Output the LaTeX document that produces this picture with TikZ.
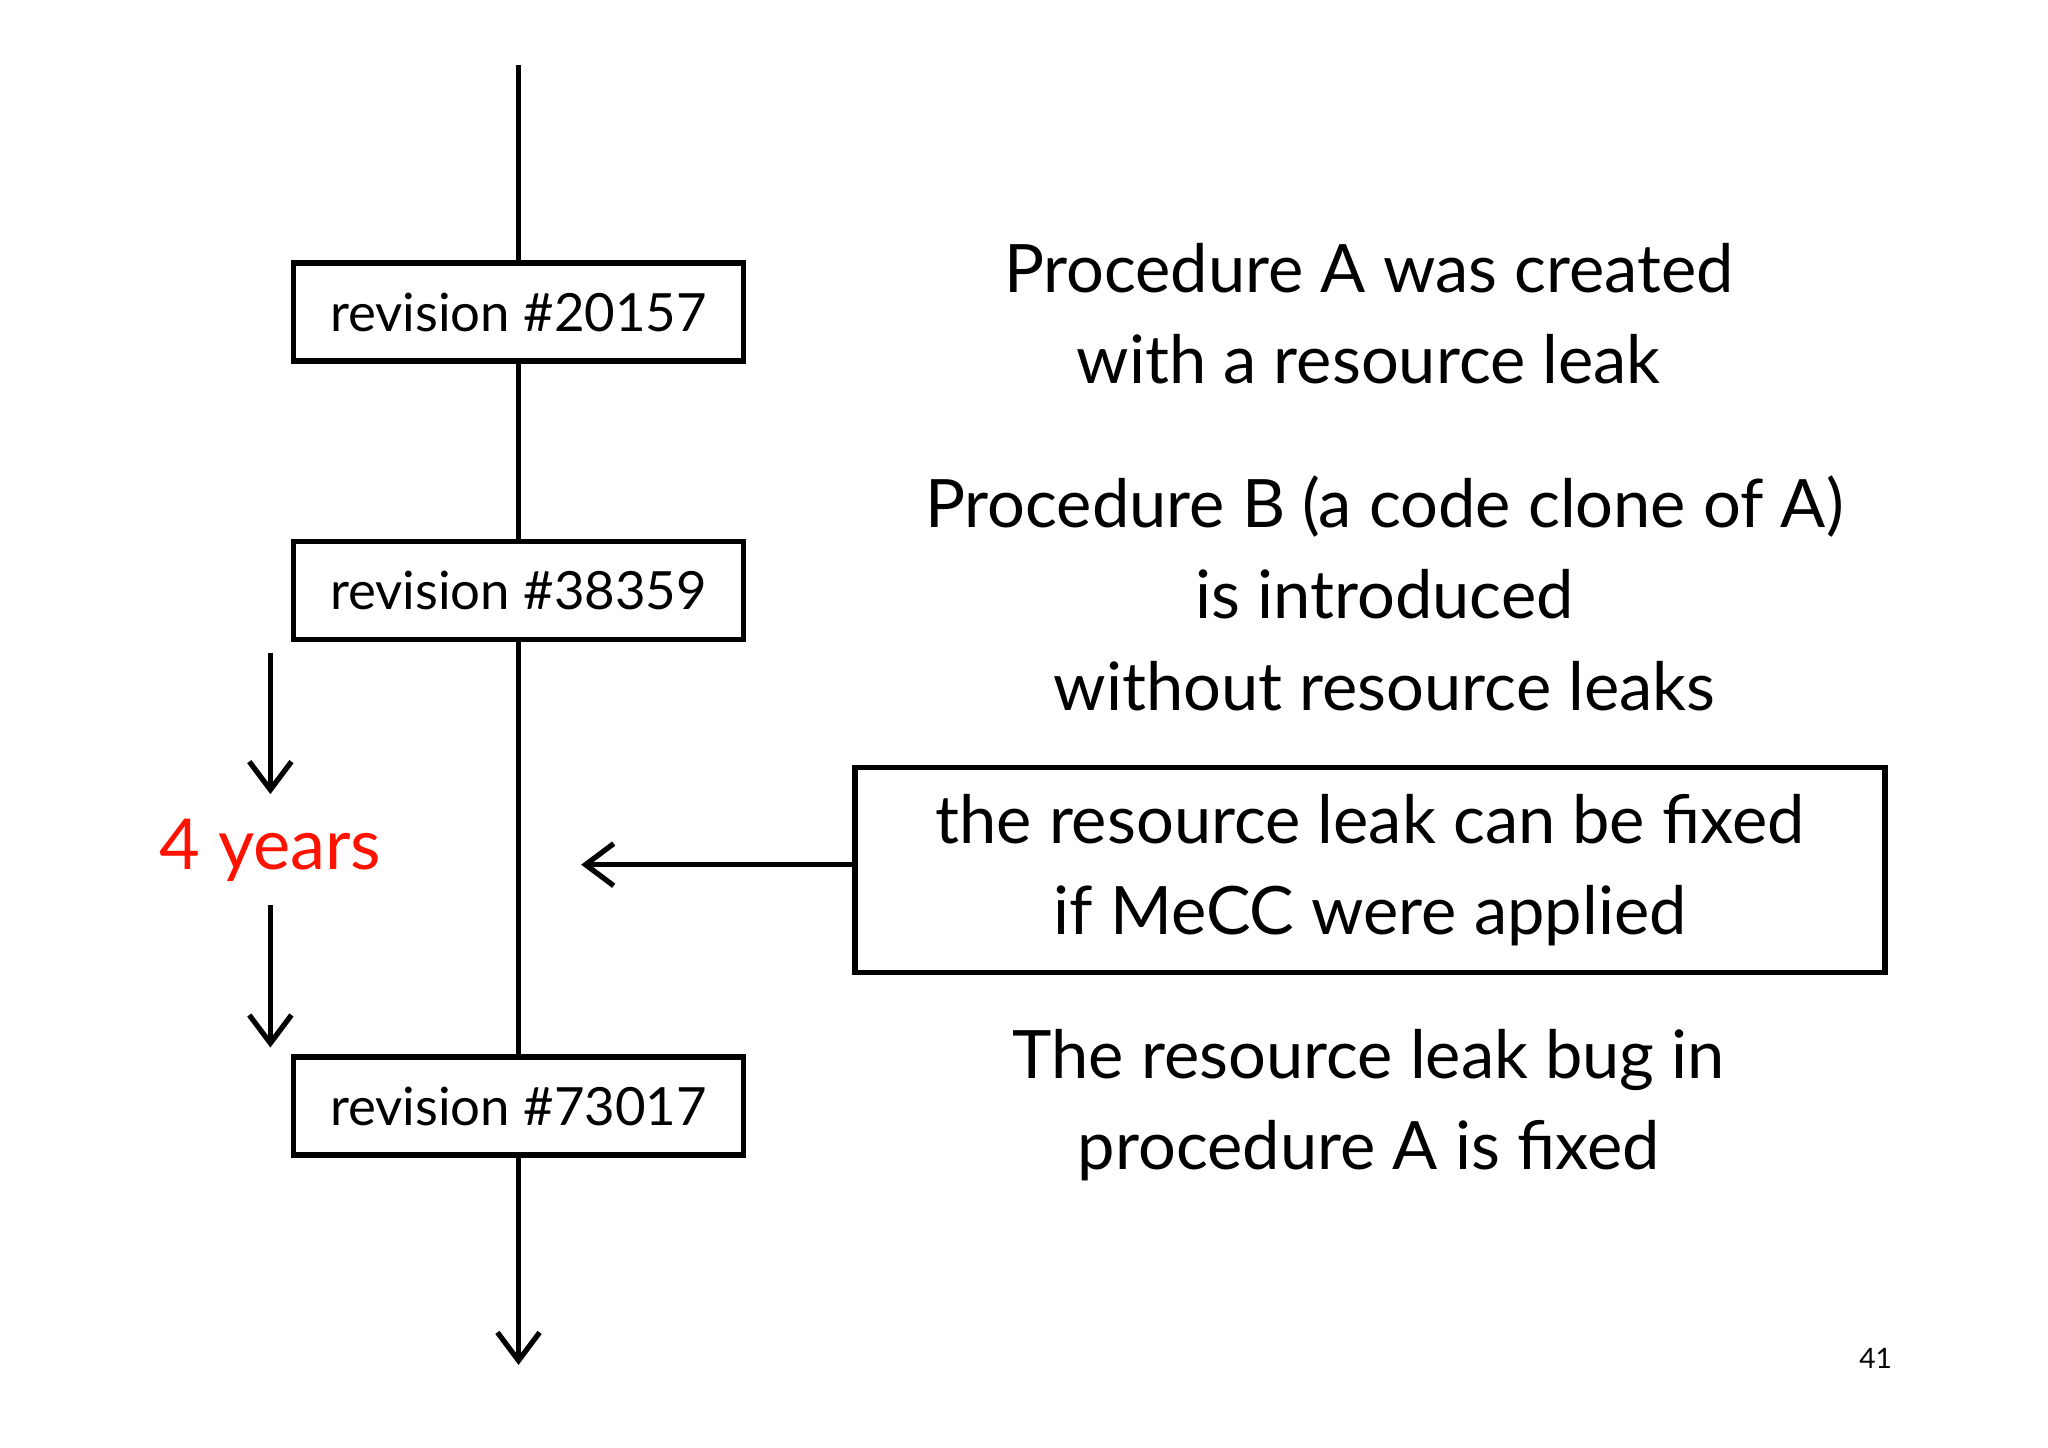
\documentclass[tikz,border=0pt]{standalone}
\usepackage{fontspec}
\setmainfont{Lato}
\usetikzlibrary{arrows.meta}
\begin{document}
\begin{tikzpicture}[x=0.01306cm,y=-0.01306cm,
  rev/.style={draw=black,line width=1.6pt,minimum width=345\pgflinewidth*0+4.5cm,minimum height=0.98cm,font=\fontsize{15}{18}\selectfont,inner sep=0pt},
  big/.style={font=\fontsize{19}{26}\selectfont,align=center},
  flow/.style={line width=1.5pt,-{Straight Barb[length=8pt,width=12pt]}},
  plain/.style={line width=1.5pt}]
\useasboundingbox (0,0) rectangle (1568,1108);
\fill[white] (0,0) rectangle (1568,1108);
\coordinate (top) at (397,50);
\node[rev] (r1) at (397,239) {revision \#20157};
\node[rev] (r2) at (397,452) {revision \#38359};
\node[rev] (r3) at (397,847) {revision \#73017};
\coordinate (bot) at (397,1045);
\draw[plain] (top) -- (r1.north);
\draw[plain] (r1.south) -- (r2.north);
\draw[plain] (r2.south) -- (r3.north);
\draw[flow] (r3.south) -- (bot);
\coordinate (y0) at (207,500);
\coordinate (y1) at (207,608);
\node[text=red!85!orange,font=\fontsize{20}{24}\selectfont] (yrs) at (207,651) {4 years};
\coordinate (y2) at (207,693);
\coordinate (y3) at (207,802);
\draw[flow] (y0) -- (y1);
\draw[flow] (y2) -- (y3);
\node[big] (t1) at (1048,240) {Procedure A was created\\with a resource leak};
\node[big] (t2) at (1060,454) {Procedure B (a code clone of A)\\is introduced\\without resource leaks};
\node[big,draw,line width=1.6pt,minimum width=10.3cm,minimum height=2.05cm] (fix) at (1049,666) {the resource leak can be fixed\\if MeCC were applied};
\coordinate (tip) at (445,662);
\draw[flow] (fix.west |- tip) -- (tip);
\node[big] (t3) at (1048,846) {The resource leak bug in\\procedure A is fixed};
\node[font=\fontsize{8}{10}\selectfont] (pg) at (1436,1040) {41};
\end{tikzpicture}
\end{document}
